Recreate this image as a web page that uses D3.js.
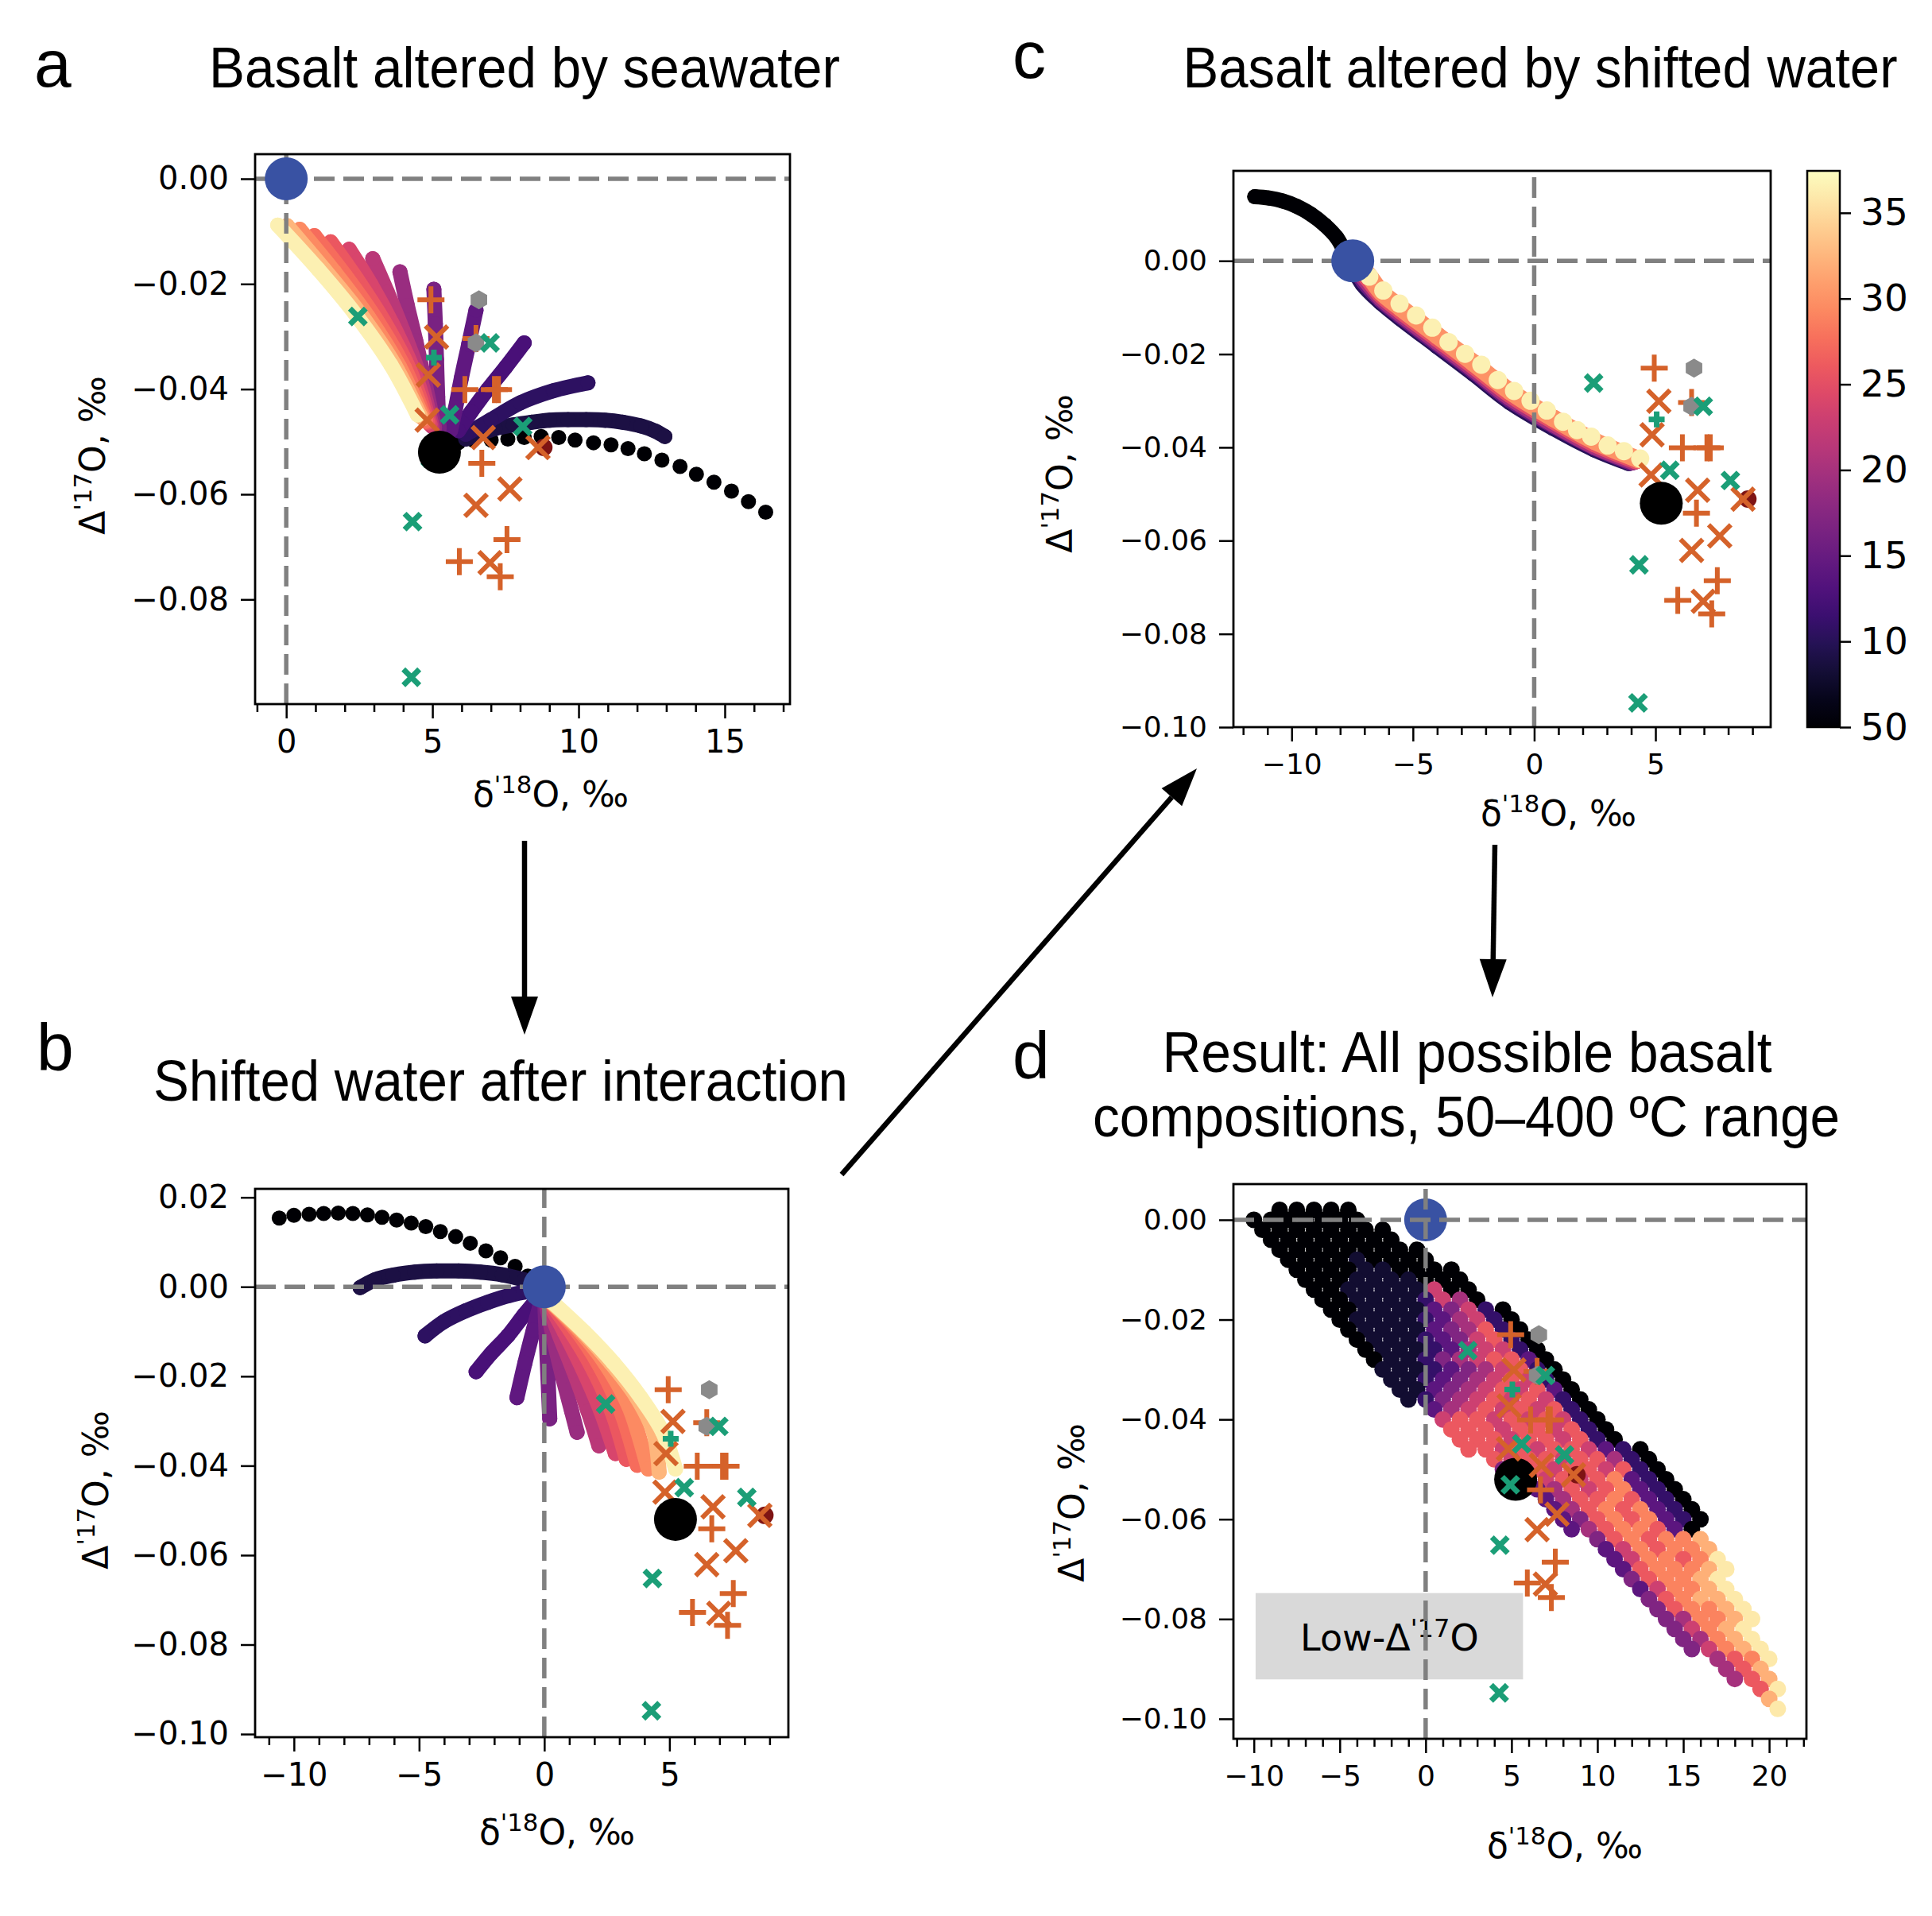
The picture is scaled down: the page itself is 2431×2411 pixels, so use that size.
<!DOCTYPE html>
<html>
<head>
<meta charset="utf-8">
<script src="https://cdn.jsdelivr.net/npm/d3@7"></script>
<style>
  body { margin: 0; background: #fff; }
  svg text { font-family: "DejaVu Sans", sans-serif; fill: #000; }
  svg text.ttl { font-family: "Liberation Sans", Arial, sans-serif; }
</style>
</head>
<body>
<svg id="fig"></svg>
<script>
// ---------- data (x = δ'18O ‰, y = Δ'17O ‰, v = colour-bar value) ----------

// sample data, same in every panel
const orangePlus = [[4.95,-0.0230],[6.49,-0.0304],[6.11,-0.0401],[7.12,-0.0401],[7.26,-0.0401],[6.69,-0.0541],[7.55,-0.0686],[5.92,-0.0728],[7.32,-0.0757]];
const orangeX = [[5.14,-0.0301],[4.86,-0.0373],[4.82,-0.0459],[6.74,-0.0492],[7.65,-0.0590],[6.49,-0.0621],[6.97,-0.0730],[8.61,-0.0511]];
const greenX = [[2.45,-0.0262],[6.97,-0.0312],[5.59,-0.0449],[8.09,-0.0471],[4.32,-0.0652],[4.28,-0.0948],[4.93,-0.0531]];
const greenPlus = [[5.05,-0.0340]];
const grayHex = [[6.59,-0.0230],[6.49,-0.0312]];
const darkRed = [[8.81,-0.0511]];
const basalt = [5.24, -0.0520];
const seawater = {a: [0, 0], b: [0, 0], c: [-7.48, 0], d: [0, 0]};

// panel a: basalt altered by seawater
const curvesA = [
  {v: 5, dots: true, pts: [[5.89,-0.0502],[6.39,-0.0497],[7.01,-0.0497],[7.58,-0.0495],[8.14,-0.0492],[8.72,-0.0490],[9.32,-0.0492],[9.88,-0.0497],[10.51,-0.0502],[11.11,-0.0506],[11.69,-0.0513],[12.25,-0.0523],[12.85,-0.0535],[13.47,-0.0547],[14.03,-0.0562],[14.63,-0.0577],[15.23,-0.0594],[15.81,-0.0614],[16.40,-0.0634]]},
  {v: 9, pts: [[6.14,-0.0495],[7.14,-0.0475],[7.77,-0.0468],[8.39,-0.0463],[9.01,-0.0459],[9.64,-0.0458],[10.26,-0.0458],[10.89,-0.0459],[11.51,-0.0463],[12.13,-0.0470],[12.63,-0.0480],[12.95,-0.0490]]},
  {v: 10.5, pts: [[6.14,-0.0486],[7.01,-0.0458],[8.01,-0.0426],[9.14,-0.0403],[10.32,-0.0388]]},
  {v: 12.5, pts: [[5.89,-0.0479],[6.33,-0.0443],[6.89,-0.0401],[7.51,-0.0358],[8.14,-0.0312]]},
  {v: 14.5, pts: [[5.62,-0.0479],[5.79,-0.0436],[5.99,-0.0379],[6.24,-0.0315],[6.49,-0.0250]]},
  {v: 16.5, pts: [[5.23,-0.0475],[5.18,-0.0415],[5.14,-0.0344],[5.10,-0.0276],[5.05,-0.0210]]},
  {v: 19, pts: [[5.07,-0.0473],[4.74,-0.0387],[4.43,-0.0308],[4.14,-0.0241],[3.89,-0.0177]]},
  {v: 21.5, pts: [[4.99,-0.0471],[4.54,-0.0372],[3.98,-0.0287],[3.46,-0.0216],[2.96,-0.0152]]},
  {v: 24, pts: [[4.92,-0.0467],[4.36,-0.0365],[3.62,-0.0275],[2.90,-0.0201],[2.15,-0.0134]]},
  {v: 25.8, pts: [[4.84,-0.0463],[4.21,-0.0362],[3.33,-0.0270],[2.42,-0.0191],[1.52,-0.0120]]},
  {v: 27.5, pts: [[4.77,-0.0461],[4.04,-0.0359],[3.06,-0.0266],[2.02,-0.0184],[0.96,-0.0108]]},
  {v: 29.5, pts: [[4.69,-0.0456],[3.87,-0.0357],[2.80,-0.0262],[1.65,-0.0177],[0.46,-0.0096]]},
  {v: 32.5, pts: [[4.59,-0.0452],[3.71,-0.0354],[2.55,-0.0258],[1.30,-0.0172],[0.03,-0.0089]]},
  {v: 36.5, pts: [[4.49,-0.0449],[3.58,-0.0354],[2.37,-0.0258],[1.09,-0.0172],[-0.29,-0.0088]]}
];

// panel b: shifted water after interaction
const curvesB = [
  {v: 5, dots: true, pts: [[-0.655,0.00242],[-1.165,0.00457],[-1.747,0.00647],[-2.33,0.00803],[-2.956,0.00975],[-3.539,0.01122],[-4.15,0.01234],[-4.733,0.01347],[-5.315,0.01424],[-5.898,0.01493],[-6.48,0.01554],[-7.063,0.01606],[-7.645,0.0164],[-8.228,0.01649],[-8.81,0.0164],[-9.393,0.01623],[-10.0,0.01597],[-10.587,0.01536]]},
  {v: 9, pts: [[-0.80,0.00155],[-1.675,0.00268],[-2.548,0.00328],[-3.422,0.00354],[-4.296,0.00354],[-5.17,0.00328],[-6.043,0.00259],[-6.771,0.00155],[-7.354,-0.00017]]},
  {v: 10.5, pts: [[-0.51,-0.00086],[-1.383,-0.0019],[-2.257,-0.00345],[-3.131,-0.00535],[-4.005,-0.00777],[-4.762,-0.01096]]},
  {v: 12.5, pts: [[-0.218,-0.00233],[-0.801,-0.00622],[-1.456,-0.01096],[-2.112,-0.01485],[-2.723,-0.01899]]},
  {v: 14.5, pts: [[-0.102,-0.00276],[-0.437,-0.00967],[-0.772,-0.0170],[-1.092,-0.02477]]},
  {v: 16.5, pts: [[0.015,-0.00276],[0.073,-0.01053],[0.146,-0.02003],[0.218,-0.02952]]},
  {v: 19, pts: [[0.044,-0.00276],[0.364,-0.01139],[0.728,-0.02003],[1.092,-0.02779],[1.311,-0.03254]]},
  {v: 21.5, pts: [[0.073,-0.00276],[0.582,-0.01053],[1.165,-0.01873],[1.747,-0.02779],[2.184,-0.03556]]},
  {v: 24, pts: [[0.102,-0.00276],[0.801,-0.0101],[1.529,-0.0183],[2.257,-0.02779],[2.84,-0.03729]]},
  {v: 25.8, pts: [[0.146,-0.00276],[1.019,-0.00967],[1.893,-0.01787],[2.694,-0.02779],[3.277,-0.03858]]},
  {v: 27.5, pts: [[0.189,-0.00293],[1.209,-0.00924],[2.184,-0.01744],[3.058,-0.02779],[3.713,-0.03988]]},
  {v: 29.5, pts: [[0.218,-0.00319],[1.354,-0.0095],[2.446,-0.01726],[3.393,-0.02693],[4.15,-0.04074]]},
  {v: 32.5, pts: [[0.291,-0.00345],[1.5,-0.00984],[2.636,-0.01692],[3.684,-0.02469],[4.369,-0.03254],[4.587,-0.04143]]},
  {v: 36.5, pts: [[0.364,-0.00363],[1.602,-0.0101],[2.767,-0.0170],[3.859,-0.02477],[4.733,-0.03254],[5.242,-0.04074]]}
];

// panel c: basalt altered by shifted water
const curvesC = [
  {v: 5, r: 9.5, pts: [[-11.52,0.01376],[-10.94,0.01348],[-10.37,0.01283],[-9.79,0.0117],[-9.21,0.01002],[-8.63,0.00768],[-8.15,0.00506],[-7.86,0.00253],[-7.6,0.0005]]},
  {v: 10, pts: [[-7.45,-0.0012],[-7.05,-0.0049],[-6.3,-0.0088],[-5.5,-0.0122],[-4.0,-0.0181],[-2.5,-0.0240],[-1.0,-0.0301],[0.8,-0.0357],[2.5,-0.0403],[3.9,-0.0432]]},
  {v: 15, pts: [[-7.4,-0.0012],[-7.0,-0.0044],[-6.3,-0.0083],[-5.5,-0.0117],[-4.0,-0.0176],[-2.5,-0.0235],[-1.0,-0.0296],[0.8,-0.0352],[2.5,-0.0399],[4.0,-0.0431]]},
  {v: 20, pts: [[-7.35,-0.0012],[-6.95,-0.0040],[-6.3,-0.0079],[-5.5,-0.0113],[-4.0,-0.0172],[-2.5,-0.0231],[-1.0,-0.0292],[0.8,-0.0349],[2.5,-0.0397],[4.1,-0.0430]]},
  {v: 25, pts: [[-7.3,-0.0012],[-6.9,-0.0035],[-6.3,-0.0073],[-5.5,-0.0107],[-4.0,-0.0166],[-2.5,-0.0225],[-1.0,-0.0286],[0.8,-0.0343],[2.5,-0.0392],[4.2,-0.0428]]},
  {v: 30, pts: [[-7.2,-0.0012],[-6.85,-0.0030],[-6.3,-0.0067],[-5.5,-0.0101],[-4.0,-0.0160],[-2.5,-0.0219],[-1.0,-0.0280],[0.8,-0.0338],[2.5,-0.0387],[4.3,-0.0426]]},
  {v: 36.5, dots: true, r: 11.5, pts: [[-6.80,-0.00337],[-6.22,-0.00637],[-5.55,-0.00918],[-4.87,-0.0117],[-4.20,-0.01433],[-3.53,-0.01742],[-2.85,-0.01994],[-2.18,-0.02228],[-1.50,-0.02556],[-0.83,-0.0279],[-0.15,-0.0300],[0.52,-0.0321],[1.19,-0.0345],[1.77,-0.0363],[2.35,-0.0377],[3.03,-0.0396],[3.70,-0.0408],[4.37,-0.0424]]}
];

// panel d: model cloud, one row per Δ'17O level: [y, first x, colour codes at 1 ‰ steps]
const cloudLevels = {"0":5,"1":8,"2":11,"3":14,"4":17,"5":20,"6":23,"7":26,"8":29,"9":32,"a":36};
const cloudRows = [
  [0.002,-8.5,"00000"],
  [0.000,-10,"0000000"],
  [-0.002,-9.5,"00000000"],
  [-0.004,-9,"00000000"],
  [-0.006,-8.5,"000000000"],
  [-0.008,-8,"000010000"],
  [-0.010,-7.5,"0000110000"],
  [-0.012,-7,"0001111000"],
  [-0.014,-6.5,"0011111600"],
  [-0.016,-6,"0011112650"],
  [-0.018,-5.5,"00111134620"],
  [-0.020,-5,"01111235620"],
  [-0.022,-4.5,"01111345720"],
  [-0.024,-4,"01112346720"],
  [-0.026,-3.5,"01112356620"],
  [-0.028,-3,"01124567730"],
  [-0.030,-2.5,"11123456720"],
  [-0.032,-2,"11234567620"],
  [-0.034,-1.5,"11345676730"],
  [-0.036,-1,"12456767620"],
  [-0.038,0.5,"3567676720"],
  [-0.040,1,"6776767620"],
  [-0.042,1.5,"7776776720"],
  [-0.044,2,"7776776720"],
  [-0.046,2.5,"77676776320"],
  [-0.048,4,"7677677520"],
  [-0.050,4.5,"4676776720"],
  [-0.052,6,"367678320"],
  [-0.054,6.5,"357678320"],
  [-0.056,7,"357787320"],
  [-0.058,7.5,"357878320"],
  [-0.060,8,"347878320"],
  [-0.062,8.5,"35788730"],
  [-0.064,10,"4787889"],
  [-0.066,10.5,"3687889"],
  [-0.068,11,"368878a"],
  [-0.070,11.5,"378889a"],
  [-0.072,12,"47889a"],
  [-0.074,12.5,"36889a"],
  [-0.076,13,"47899a"],
  [-0.078,13.5,"47889a"],
  [-0.080,14,"45889a"],
  [-0.082,14.5,"4689a"],
  [-0.084,15,"4589a"],
  [-0.086,15.5,"4689a"],
  [-0.088,17,"578a"],
  [-0.090,17.5,"579"],
  [-0.092,18,"579"],
  [-0.094,19.5,"7a"],
  [-0.096,20,"9"],
  [-0.098,20.5,"a"]
];
const lowBox = {x: [-9.9, 5.67], y: [-0.0748, -0.0921], labelX: -2.1, labelY: -0.0864};

// ticks
const xTicks = {a: [0,5,10,15], b: [-10,-5,0,5], c: [-10,-5,0,5], d: [-10,-5,0,5,10,15,20]};
const yTicks = {
  a: [0,-0.02,-0.04,-0.06,-0.08],
  b: [0.02,0,-0.02,-0.04,-0.06,-0.08,-0.10],
  c: [0,-0.02,-0.04,-0.06,-0.08,-0.10],
  d: [0,-0.02,-0.04,-0.06,-0.08,-0.10]
};
const cbTicks = [5,10,15,20,25,30,35];
const cbLabels = ["50","10","15","20","25","30","35"];

// ---------- layout ----------
const W = 2431, H = 2411;
const layout = {
  a: {box: [321,194,994,886], xd: [-1.065,17.23], yd: [-0.0999,0.00468], xLab: [693,1015], yLab: [132,558], font: 40},
  b: {box: [321,1496,992,2186], xd: [-11.55,9.75], yd: [-0.1007,0.0219], xLab: [701,2321], yLab: [136,1860], font: 40},
  c: {box: [1552,215,2228,915], xd: [-12.4,9.75], yd: [-0.100,0.0193], xLab: [1961,1039], yLab: [1349,581], font: 36},
  d: {box: [1552,1490,2273,2188], xd: [-11.19,22.17], yd: [-0.104,0.00716], xLab: [1969,2338], yLab: [1364,1876], font: 36}
};
const colorbarBox = [2274,215,2315,915];
const titles = [
  {t: "Basalt altered by seawater", x: 660, y: 110, w: 794},
  {t: "Basalt altered by shifted water", x: 1938, y: 110, w: 899},
  {t: "Shifted water after interaction", x: 630, y: 1385, w: 874},
  {t: "Result: All possible basalt", x: 1846, y: 1349, w: 767},
  {t: "compositions, 50\u2013400 \u00baC range", x: 1845, y: 1430, w: 940}
];
const letters = [{t: "a", x: 43, y: 109}, {t: "c", x: 1274, y: 98}, {t: "b", x: 46, y: 1347}, {t: "d", x: 1274, y: 1357}];
const arrows = [[660,1058,660,1302],[1059,1478,1506,967],[1881,1063,1878,1255]];

const ORANGE = "#d5622a", GREEN = "#1b9e77", GRAY = "#8a8a8a", DARKRED = "#7e1414", BLUE = "#3952a3";
const magma = d3.scaleSequential(d3.interpolateMagma).domain([5, 37.45]);

const svg = d3.select("#fig").attr("width", W).attr("height", H);
svg.append("rect").attr("width", W).attr("height", H).attr("fill", "#fff");

function makePanel(key) {
  const L = layout[key];
  const [x0, y0, x1, y1] = L.box;
  const x = d3.scaleLinear().domain(L.xd).range([x0, x1]);
  const y = d3.scaleLinear().domain(L.yd).range([y1, y0]);
  svg.append("clipPath").attr("id", "clip-" + key)
    .append("rect").attr("x", x0).attr("y", y0).attr("width", x1 - x0).attr("height", y1 - y0);
  const plot = svg.append("g").attr("clip-path", `url(#clip-${key})`);
  return {key, L, x, y, plot};
}

function drawCurves(p, curves, r) {
  const line = d3.line().x(d => p.x(d[0])).y(d => p.y(d[1])).curve(d3.curveCatmullRom.alpha(0.5));
  curves.slice().sort((a, b) => a.v - b.v).forEach(c => {
    const col = magma(c.v), rr = c.r || r;
    if (!c.dots) {
      p.plot.append("path").attr("d", line(c.pts)).attr("fill", "none")
        .attr("stroke", col).attr("stroke-width", 2 * rr)
        .attr("stroke-linecap", "round").attr("stroke-linejoin", "round");
    }
    p.plot.append("g").selectAll("circle").data(c.pts).join("circle")
      .attr("cx", d => p.x(d[0])).attr("cy", d => p.y(d[1])).attr("r", rr).attr("fill", col);
  });
}

function crosshair(p) {
  const [x0, y0, x1, y1] = p.L.box;
  const g = p.plot.append("g").attr("stroke", "#808080").attr("stroke-width", 5.5).attr("stroke-dasharray", "26 11");
  g.append("line").attr("x1", x0).attr("x2", x1).attr("y1", p.y(0)).attr("y2", p.y(0));
  g.append("line").attr("x1", p.x(0)).attr("x2", p.x(0)).attr("y1", y1).attr("y2", y0);
}

const hexPath = d3.range(6).map(i => {
  const a = Math.PI / 6 + i * Math.PI / 3;
  return [12 * Math.cos(a), 12 * Math.sin(a)];
});

function drawSamples(p) {
  const g = p.plot.append("g");
  const at = d => `translate(${p.x(d[0])},${p.y(d[1])})`;
  g.selectAll(".dr").data(darkRed).join("circle").attr("transform", at).attr("r", 11).attr("fill", DARKRED);
  g.selectAll(".op").data(orangePlus).join("path").attr("transform", at)
    .attr("d", "M-17,0H17M0,-17V17").attr("stroke", ORANGE).attr("stroke-width", 6);
  g.selectAll(".gh").data(grayHex).join("path").attr("transform", at)
    .attr("d", "M" + hexPath.join("L") + "Z").attr("fill", GRAY);
  g.selectAll(".ox").data(orangeX).join("path").attr("transform", at)
    .attr("d", "M-14,-14L14,14M-14,14L14,-14").attr("stroke", ORANGE).attr("stroke-width", 6);
  g.selectAll(".gx").data(greenX).join("path").attr("transform", at)
    .attr("d", "M-10,-10L10,10M-10,10L10,-10").attr("stroke", GREEN).attr("stroke-width", 7);
  g.selectAll(".gp").data(greenPlus).join("path").attr("transform", at)
    .attr("d", "M-10,0H10M0,-10V10").attr("stroke", GREEN).attr("stroke-width", 7);
}

function endMember(p, pt, col) {
  p.plot.append("circle").attr("cx", p.x(pt[0])).attr("cy", p.y(pt[1])).attr("r", 27).attr("fill", col);
}

function supLabel(g, x, y, pre, sup, post, size, rotate) {
  const t = g.append("text").attr("font-size", size).attr("text-anchor", "middle")
    .attr("transform", `translate(${x},${y})` + (rotate ? " rotate(-90)" : ""));
  t.append("tspan").text(pre);
  t.append("tspan").attr("font-size", size * 0.7).attr("dy", -size * 0.38).text(sup);
  t.append("tspan").attr("dy", size * 0.38).text(post);
  return t;
}

function drawAxes(p) {
  const L = p.L, [x0, y0, x1, y1] = L.box, key = p.key;
  const g = svg.append("g");
  const minor = d3.range(Math.ceil(L.xd[0]), Math.floor(L.xd[1]) + 1).filter(v => !xTicks[key].includes(v));
  g.append("g").attr("transform", `translate(0,${y1})`)
    .call(d3.axisBottom(p.x).tickValues(minor).tickSize(10).tickSizeOuter(0).tickFormat(""));
  g.append("g").attr("transform", `translate(0,${y1})`)
    .call(d3.axisBottom(p.x).tickValues(xTicks[key]).tickSize(18).tickSizeOuter(0).tickPadding(15).tickFormat(d3.format("d")));
  g.append("g").attr("transform", `translate(${x0},0)`)
    .call(d3.axisLeft(p.y).tickValues(yTicks[key]).tickSize(18).tickSizeOuter(0).tickPadding(15).tickFormat(d3.format(".2f")));
  g.selectAll(".domain").remove();
  g.selectAll(".tick line").attr("stroke", "#000").attr("stroke-width", 2.5);
  g.selectAll(".tick text").attr("font-size", L.font).attr("font-family", "DejaVu Sans");
  g.append("rect").attr("x", x0).attr("y", y0).attr("width", x1 - x0).attr("height", y1 - y0)
    .attr("fill", "none").attr("stroke", "#000").attr("stroke-width", 2.8);
  supLabel(g, L.xLab[0], L.xLab[1], "\u03b4", "'18", "O, \u2030", 44, false);
  supLabel(g, L.yLab[0], L.yLab[1] + 15, "\u0394", "'17", "O, \u2030", 44, true);
}

// ---------- panel a ----------
const pa = makePanel("a");
drawCurves(pa, curvesA, 9.5);
crosshair(pa);
drawSamples(pa);
endMember(pa, basalt, "#000");
endMember(pa, seawater.a, BLUE);
drawAxes(pa);

// ---------- panel b ----------
const pb = makePanel("b");
drawCurves(pb, curvesB, 9.5);
crosshair(pb);
drawSamples(pb);
endMember(pb, basalt, "#000");
endMember(pb, seawater.b, BLUE);
drawAxes(pb);

// ---------- panel c ----------
const pc = makePanel("c");
drawCurves(pc, curvesC, 11);
crosshair(pc);
drawSamples(pc);
endMember(pc, basalt, "#000");
endMember(pc, seawater.c, BLUE);
drawAxes(pc);

// ---------- panel d ----------
const pd = makePanel("d");
const cloudPts = [];
cloudRows.forEach(([yv, xs, codes]) => {
  codes.split("").forEach((ch, i) => cloudPts.push({x: xs + i, y: yv, v: cloudLevels[ch]}));
});
pd.plot.append("g").selectAll("circle").data(cloudPts).join("circle")
  .attr("cx", d => pd.x(d.x)).attr("cy", d => pd.y(d.y)).attr("r", 10.5).attr("fill", d => magma(d.v));
endMember(pd, seawater.d, BLUE);
pd.plot.append("rect")
  .attr("x", pd.x(lowBox.x[0])).attr("y", pd.y(lowBox.y[0]))
  .attr("width", pd.x(lowBox.x[1]) - pd.x(lowBox.x[0])).attr("height", pd.y(lowBox.y[1]) - pd.y(lowBox.y[0]))
  .attr("fill", "#d9d9d9");
supLabel(pd.plot, pd.x(lowBox.labelX), pd.y(lowBox.labelY), "Low-\u0394", "'17", "O", 46, false);
crosshair(pd);
endMember(pd, basalt, "#000");
drawSamples(pd);
drawAxes(pd);

// ---------- colour bar ----------
const cbY = d3.scaleLinear().domain(magma.domain()).range([colorbarBox[3], colorbarBox[1]]);
const grad = svg.append("defs").append("linearGradient").attr("id", "cbgrad")
  .attr("x1", 0).attr("y1", 1).attr("x2", 0).attr("y2", 0);
d3.range(0, 1.0001, 0.05).forEach(t => grad.append("stop").attr("offset", t).attr("stop-color", d3.interpolateMagma(t)));
svg.append("rect").attr("x", colorbarBox[0]).attr("y", colorbarBox[1])
  .attr("width", colorbarBox[2] - colorbarBox[0]).attr("height", colorbarBox[3] - colorbarBox[1])
  .attr("fill", "url(#cbgrad)").attr("stroke", "#000").attr("stroke-width", 2.5);
const cbAxis = svg.append("g").attr("transform", `translate(${colorbarBox[2]},0)`)
  .call(d3.axisRight(cbY).tickValues(cbTicks).tickSize(14).tickSizeOuter(0).tickPadding(12).tickFormat((d, i) => cbLabels[i]));
cbAxis.select(".domain").remove();
cbAxis.selectAll(".tick line").attr("stroke", "#000").attr("stroke-width", 2.5);
cbAxis.selectAll(".tick text").attr("font-size", 47).attr("font-family", "DejaVu Sans");

// ---------- titles, letters, arrows ----------
titles.forEach(t => svg.append("text").attr("class", "ttl").attr("x", t.x).attr("y", t.y)
  .attr("text-anchor", "middle").attr("font-size", 72)
  .attr("textLength", t.w).attr("lengthAdjust", "spacingAndGlyphs").text(t.t));
letters.forEach(t => svg.append("text").attr("class", "ttl").attr("x", t.x).attr("y", t.y)
  .attr("font-size", 84).text(t.t));
arrows.forEach(([xa, ya, xb, yb]) => {
  const dx = xb - xa, dy = yb - ya, len = Math.hypot(dx, dy), ux = dx / len, uy = dy / len;
  const hl = 48, hw = 17, bx = xb - ux * hl, by = yb - uy * hl;
  svg.append("line").attr("x1", xa).attr("y1", ya).attr("x2", bx).attr("y2", by)
    .attr("stroke", "#000").attr("stroke-width", 6.5);
  svg.append("path").attr("d", `M${xb},${yb}L${bx - uy * hw},${by + ux * hw}L${bx + uy * hw},${by - ux * hw}Z`).attr("fill", "#000");
});
</script>
</body>
</html>
